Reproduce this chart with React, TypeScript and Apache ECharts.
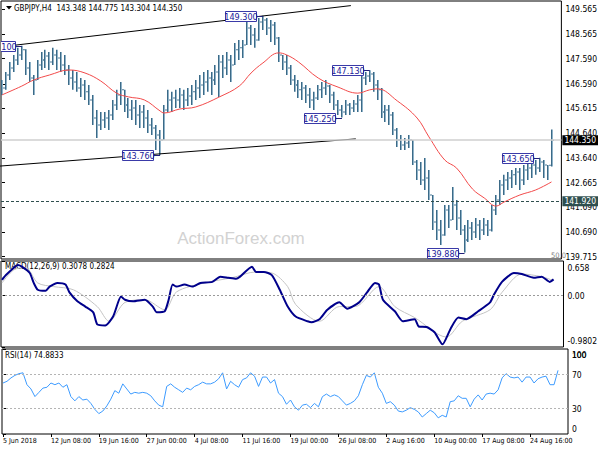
import React, { useEffect, useRef } from "react";
import * as echarts from "echarts";

// ---------- data ----------
const timeLabels = [
  "5 Jun 2018", "12 Jun 08:00", "19 Jun 16:00", "27 Jun 00:00", "4 Jul 08:00", "11 Jul 16:00",
  "19 Jul 00:00", "26 Jul 08:00", "2 Aug 16:00", "10 Aug 00:00", "17 Aug 08:00", "24 Aug 16:00",
];
const timeLabelBars = [0, 12, 24, 36, 48, 60, 72, 84, 96, 108, 120, 132];

const priceTicks = [149.565, 148.565, 147.59, 146.59, 145.615, 144.64, 143.64, 142.665, 141.69, 140.69, 139.715];
const macdTicks = [0.658, 0, -0.9802];
const rsiTicks = [100, 70, 30, 0];
const rsiUpperLabels = [100, 70, 30];
const rsiBottomLabel = "0";

const firstOpen = 146.3;
const highs = [
  146.74, 147.06, 147.46, 147.74, 148.02, 148.10, 147.96, 147.46, 146.94, 147.54,
  147.86, 147.94, 147.86, 148.02, 147.94, 147.86, 147.74, 147.34, 147.14, 147.06,
  146.82, 146.74, 146.54, 146.15, 145.55, 145.47, 145.47, 145.55, 145.95, 146.35,
  146.66, 146.35, 146.03, 145.95, 145.95, 145.75, 145.75, 145.55, 145.23, 144.95,
  144.75, 145.75, 146.35, 146.27, 146.35, 146.42, 146.35, 146.42, 146.54, 146.74,
  146.94, 147.06, 147.14, 147.06, 147.34, 147.74, 147.74, 147.86, 147.74, 148.21,
  148.33, 148.33, 149.05, 148.93, 148.81, 149.21, 149.30, 149.21, 149.13, 149.05,
  148.45, 147.74, 147.74, 147.34, 146.94, 146.74, 146.66, 146.54, 146.42, 146.27,
  146.54, 146.66, 146.74, 146.54, 146.27, 145.95, 145.75, 145.95, 145.83, 145.95,
  146.15, 147.06, 147.06, 147.13, 147.06, 146.74, 146.42, 145.75, 145.75, 145.47,
  144.83, 144.56, 144.44, 144.56, 144.36, 143.56, 143.48, 143.64, 143.16, 142.17,
  141.57, 141.18, 141.77, 141.77, 142.49, 141.97, 141.57, 140.98, 141.18, 141.10,
  141.26, 141.18, 141.26, 141.18, 141.77, 142.17, 142.77, 142.97, 143.08, 143.16,
  143.24, 143.24, 143.36, 143.48, 143.56, 143.56, 143.65, 143.56, 143.36, 144.775,
];
const lows = [
  146.15, 146.35, 146.74, 147.06, 147.34, 147.54, 146.94, 146.66, 146.15, 146.74,
  147.14, 147.22, 147.14, 147.34, 147.14, 147.06, 146.94, 146.54, 146.35, 146.27,
  146.07, 145.95, 145.75, 144.95, 144.44, 144.75, 144.83, 144.75, 145.15, 145.55,
  145.75, 145.47, 145.23, 145.15, 144.95, 144.83, 144.83, 144.63, 144.56, 143.96,
  143.76, 144.36, 145.47, 145.47, 145.63, 145.63, 145.55, 145.71, 145.75, 145.95,
  146.03, 146.15, 146.27, 146.15, 146.54, 146.07, 146.82, 146.94, 146.66, 147.34,
  147.54, 147.62, 148.13, 148.13, 148.02, 148.30, 148.73, 148.53, 148.25, 148.13,
  147.46, 147.14, 146.94, 146.54, 146.27, 146.03, 145.95, 145.83, 145.63, 145.55,
  145.95, 146.03, 146.15, 145.83, 145.55, 145.35, 145.25, 145.35, 145.35, 145.47,
  145.47, 145.47, 146.54, 146.66, 146.27, 145.95, 145.23, 145.07, 144.95, 144.56,
  144.08, 143.96, 143.96, 144.04, 143.36, 142.77, 142.57, 142.37, 141.97, 140.78,
  140.38, 140.18, 140.55, 140.86, 141.18, 140.78, 140.58, 139.88, 140.30, 140.38,
  140.46, 140.38, 140.58, 140.54, 140.72, 141.37, 141.77, 142.17, 142.37, 142.45,
  142.57, 142.37, 142.57, 142.77, 142.85, 142.97, 143.08, 142.85, 142.77, 143.304,
];
const closes = [
  146.42, 146.94, 147.22, 147.54, 147.74, 147.94, 147.22, 146.82, 146.74, 147.34,
  147.54, 147.70, 147.46, 147.74, 147.62, 147.34, 147.14, 146.82, 146.66, 146.42,
  146.54, 146.27, 145.95, 145.23, 144.95, 145.15, 145.23, 145.35, 145.75, 146.15,
  146.35, 145.75, 145.55, 145.63, 145.35, 145.47, 145.23, 144.95, 144.83, 144.56,
  144.36, 145.55, 145.95, 146.03, 145.95, 146.15, 145.95, 146.11, 146.27, 146.42,
  146.54, 146.66, 146.82, 146.74, 147.06, 147.46, 147.22, 147.54, 147.34, 147.94,
  148.02, 148.13, 148.81, 148.53, 148.33, 149.05, 149.13, 148.81, 148.93, 148.41,
  147.74, 147.46, 147.22, 146.74, 146.54, 146.35, 146.42, 146.15, 145.95, 146.03,
  146.35, 146.42, 146.50, 146.15, 145.75, 145.55, 145.47, 145.75, 145.63, 145.79,
  145.95, 146.82, 146.90, 146.98, 146.54, 146.35, 145.47, 145.55, 145.35, 144.75,
  144.36, 144.16, 144.24, 144.36, 143.48, 143.16, 142.77, 142.85, 142.17, 141.10,
  140.78, 140.58, 141.57, 141.18, 141.77, 141.26, 140.78, 140.38, 140.86, 140.70,
  140.98, 140.78, 140.98, 140.78, 141.57, 141.97, 142.57, 142.77, 142.85, 142.97,
  143.08, 142.77, 143.16, 143.24, 143.36, 143.24, 143.48, 143.36, 143.348, 144.35,
];

const maBars = [0, 5, 8, 12, 17, 21, 25, 29, 32, 36, 40, 41, 45, 49, 55, 60, 63, 66, 70, 72, 75, 80, 85, 90, 93, 95, 100, 105, 108, 112, 115, 119, 122, 125, 127, 131, 135, 139];
const maValues = [
  146.15, 146.50, 146.74, 146.94, 147.14, 147.02, 146.70, 146.22, 146.07, 145.95,
  145.51, 145.43, 145.59, 145.67, 146.07, 146.50, 147.02, 147.42, 147.82, 147.74,
  147.46, 146.82, 146.46, 146.22, 146.35, 146.39, 145.91, 145.23, 144.48, 143.56,
  143.24, 142.41, 142.05, 141.73, 141.89, 142.17, 142.37, 142.69,
];

const macdBars = [0, 1, 3, 4, 5, 7, 8, 9, 11, 12, 14, 16, 17, 19, 21, 23, 24, 26, 28, 30, 31, 33, 36, 38, 39, 41, 42, 43, 44, 46, 48, 50, 53, 55, 57, 59, 60, 63, 64, 66, 68, 70, 72, 74, 77, 78, 80, 82, 85, 87, 90, 92, 94, 95, 96, 99, 101, 104, 105, 107, 109, 111, 113, 115, 117, 120, 123, 124, 126, 129, 131, 134, 136, 138, 139];
const macdValues = [
  0.30, 0.39, 0.53, 0.58, 0.55, 0.43, 0.24, 0.11, 0.09, 0.17,
  0.24, 0.21, 0.06, -0.11, -0.21, -0.32, -0.55, -0.57, -0.40, -0.02,
  -0.08, -0.11, -0.08, -0.21, -0.32, -0.30, -0.08, 0.21, 0.17, 0.21,
  0.17, 0.24, 0.26, 0.36, 0.34, 0.32, 0.36, 0.55, 0.45, 0.45,
  0.39, 0.11, -0.21, -0.40, -0.49, -0.51, -0.45, -0.27, -0.13, -0.25,
  -0.13, 0.06, 0.24, 0.21, -0.08, -0.30, -0.49, -0.45, -0.59, -0.60,
  -0.70, -0.93, -0.64, -0.42, -0.45, -0.30, -0.13, 0.02, 0.26, 0.43,
  0.41, 0.34, 0.36, 0.26, 0.3078,
];
const signalBars = [0, 3, 6, 9, 13, 18, 24, 27, 31, 36, 41, 44, 51, 58, 64, 68, 72, 74, 80, 85, 89, 95, 99, 104, 112, 116, 123, 126, 131, 136, 139];
const signalValues = [
  0.24, 0.49, 0.53, 0.24, 0.17, 0.11, -0.21, -0.49, -0.13, -0.08,
  -0.27, 0.07, 0.24, 0.34, 0.45, 0.43, 0.17, -0.17, -0.49, -0.21,
  -0.21, 0.17, -0.21, -0.42, -0.79, -0.49, -0.27, 0.06, 0.41, 0.36,
  0.2824,
];

const rsiValues = [
  60, 62, 66, 69, 71, 72, 58, 53, 44, 49,
  54, 55, 60, 58, 60, 55, 58, 44, 39, 44,
  40, 41, 36, 29, 24, 27, 33, 41, 51, 48,
  59, 53, 47, 49, 48, 49, 48, 45, 39, 34,
  32, 56, 59, 55, 52, 49, 54, 52, 56, 58,
  61, 59, 59, 61, 65, 72, 53, 62, 58, 55,
  64, 66, 72, 68, 56, 67, 67, 60, 64, 48,
  44, 35, 40, 32, 28, 34, 35, 31, 36, 32,
  44, 47, 44, 46, 44, 39, 34, 36, 39, 45,
  58, 69, 67, 72, 55, 48, 36, 38, 34, 27,
  26, 28, 31, 29, 26, 20, 24, 28, 25, 19,
  22, 20, 38, 39, 45, 42, 42, 32, 41, 46,
  40, 47, 48, 47, 52, 66, 71, 67, 66, 67,
  61, 67, 67, 60, 65, 67, 68, 58, 58, 74.88,
];

const annBars = [5, 66, 40, 93, 86, 117, 136];
const annPrices = [148.1, 149.3, 143.76, 147.13, 145.25, 139.88, 143.65];
const annTexts = ["148.100", "149.300", "143.760", "147.130", "145.250", "139.880", "143.650"];

const upperLineBars = [3.5, 88.25];
const upperLinePrices = [148.13, 149.7];
const lowerLineBars = [-0.5, 89.5];
const lowerLinePrices = [143.32, 144.4];

const lastPrice = 144.35;
const levelPrice = 141.92;

// ---------- layout ----------
const FONT = '"Liberation Sans Narrow", "DejaVu Sans Condensed", "Liberation Sans", Arial, sans-serif';
const WIDE_FONT = '"Liberation Sans", Arial, sans-serif';
const X_MIN = -0.25;
const X_MAX = 141.5;

export default function App() {
  const ref = useRef<HTMLDivElement>(null);

  useEffect(() => {
    if (!ref.current) return;
    const chart = echarts.init(ref.current, null, { renderer: "svg" });

    const opens = closes.map((c, i) => (i === 0 ? firstOpen : closes[i - 1]));
    const barData = closes.map((c, i) => [i, opens[i], c, lows[i], highs[i]]);

    const gridBase = { left: 1, width: 567, show: true, borderColor: "#000", borderWidth: 1, backgroundColor: "transparent" };

    const hiddenX = (gi: number) => ({
      type: "value", gridIndex: gi, min: X_MIN, max: X_MAX, show: false,
      splitLine: { show: false },
    });

    const axisLabelBase = { color: "#000", fontSize: 8.5, fontFamily: FONT, margin: 4 };
    const labelRich = {
      t: { padding: [11, 0, 0, 0], fontSize: 8.5, fontFamily: FONT, color: "#000" },
      m: { fontSize: 8.5, fontFamily: FONT, color: "#000" },
    };

    const option: any = {
      animation: false,
      textStyle: { fontFamily: FONT },
      grid: [
        { ...gridBase, top: 1, height: 258 },
        { ...gridBase, top: 261, height: 86 },
        { ...gridBase, top: 349, height: 85 },
        // thin strip at the bottom of the RSI window that carries its "0" scale label
        { left: 1, width: 567, top: 424, height: 10, show: false },
      ],
      xAxis: [
        hiddenX(0),
        hiddenX(1),
        {
          type: "value", gridIndex: 2, min: X_MIN, max: X_MAX,
          axisLine: { show: false },
          splitLine: { show: false },
          axisTick: { show: true, length: 3, customValues: timeLabelBars, lineStyle: { color: "#000" } },
          axisLabel: {
            ...axisLabelBase, fontSize: 7, align: "left", margin: 3,
            customValues: timeLabelBars,
            formatter: (v: number) => {
              const k = timeLabelBars.indexOf(Math.round(v));
              return k >= 0 ? timeLabels[k] : "";
            },
          },
        },
        hiddenX(3),
      ],
      yAxis: [
        {
          type: "value", gridIndex: 0, position: "right", min: 139.625, max: 149.883,
          axisLine: { show: false }, splitLine: { show: false },
          axisTick: { show: true, length: 3, customValues: priceTicks, lineStyle: { color: "#000" } },
          axisLabel: { ...axisLabelBase, customValues: priceTicks, formatter: (v: number) => v.toFixed(3) },
        },
        {
          type: "value", gridIndex: 1, position: "right", min: -0.9802, max: 0.658,
          axisLine: { show: false }, splitLine: { show: false },
          axisTick: { show: true, length: 3, customValues: macdTicks, lineStyle: { color: "#000" } },
          axisLabel: {
            ...axisLabelBase, customValues: macdTicks, showMinLabel: true, showMaxLabel: true,
            formatter: (v: number) => (v > 0.3 ? "{t|0.658}" : v < -0.3 ? "{b|-0.9802}" : "{m|0.00}"),
            rich: {
              t: { padding: [13, 0, 0, 0], fontSize: 8.5, fontFamily: FONT, color: "#000" },
              b: { padding: [0, 0, 13, 0], fontSize: 8.5, fontFamily: FONT, color: "#000" },
              m: { fontSize: 8.5, fontFamily: FONT, color: "#000" },
            },
          },
        },
        {
          type: "value", gridIndex: 2, position: "right", min: 0, max: 100,
          axisLine: { show: false }, splitLine: { show: false },
          axisTick: { show: true, length: 3, customValues: rsiTicks, lineStyle: { color: "#000" } },
          axisLabel: {
            ...axisLabelBase, customValues: rsiUpperLabels, showMinLabel: true, showMaxLabel: true,
            hideOverlap: false,
            formatter: (v: number) => (v > 90 ? "{t|100}" : "{m|" + Math.round(v) + "}"),
            rich: labelRich,
          },
        },
        {
          type: "value", gridIndex: 3, position: "right", min: 0, max: 1,
          axisLine: { show: false }, splitLine: { show: false }, axisTick: { show: false },
          axisLabel: {
            ...axisLabelBase, customValues: [0.5], showMinLabel: true, showMaxLabel: true,
            formatter: () => rsiBottomLabel,
          },
        },
      ],
      series: [
        // price level lines
        {
          type: "line", xAxisIndex: 0, yAxisIndex: 0, data: [], silent: true, z: 6,
          markLine: {
            silent: true, symbol: ["none", "none"], animation: false,
            data: [
              {
                yAxis: lastPrice,
                lineStyle: { color: "#cfcfcf", width: 1.5, type: "solid" },
                label: {
                  show: true, position: "end", distance: 1, formatter: "144.350",
                  backgroundColor: "#000", color: "#fff", padding: [1, 2, 0, 2],
                  fontSize: 8.5, fontFamily: FONT,
                },
              },
              {
                yAxis: levelPrice,
                lineStyle: { color: "#2f4f4f", width: 1, type: [3, 2] },
                label: {
                  show: true, position: "end", distance: 1, formatter: "141.920",
                  backgroundColor: "#2f4f4f", color: "#fff", padding: [1, 2, 0, 2],
                  fontSize: 8.5, fontFamily: FONT,
                },
              },
            ],
          },
        },
        // channel lines
        {
          type: "line", xAxisIndex: 0, yAxisIndex: 0, silent: true, symbol: "none",
          data: upperLineBars.map((b, k) => [b, upperLinePrices[k]]),
          lineStyle: { color: "#000", width: 1 },
        },
        {
          type: "line", xAxisIndex: 0, yAxisIndex: 0, silent: true, symbol: "none",
          data: lowerLineBars.map((b, k) => [b, lowerLinePrices[k]]),
          lineStyle: { color: "#000", width: 1 },
        },
        // OHLC bars
        {
          type: "custom", xAxisIndex: 0, yAxisIndex: 0, silent: true, clip: true,
          data: barData,
          encode: { x: 0, y: [1, 2, 3, 4] },
          renderItem: (params: any, api: any) => {
            const i = api.value(0);
            const x = Math.round(api.coord([i, api.value(4)])[0]);
            const yH = api.coord([i, api.value(4)])[1];
            const yL = api.coord([i, api.value(3)])[1];
            const yO = api.coord([i, api.value(1)])[1];
            const yC = api.coord([i, api.value(2)])[1];
            const h = Math.max(1, yL - yH);
            return {
              type: "group",
              children: [
                { type: "rect", shape: { x: x - 1, y: yH, width: 1, height: h }, style: { fill: "#3b6a87" } },
                { type: "rect", shape: { x: x, y: yH, width: 1, height: h }, style: { fill: "#8fb2c8" } },
                { type: "rect", shape: { x: x - 2, y: yO - 0.5, width: 1, height: 1 }, style: { fill: "#4f7d99" } },
                { type: "rect", shape: { x: x + 1, y: yC - 0.5, width: 1, height: 1 }, style: { fill: "#4f7d99" } },
              ],
            };
          },
        },
        // moving average
        {
          type: "line", xAxisIndex: 0, yAxisIndex: 0, silent: true, symbol: "none", smooth: 0.4,
          data: maBars.map((b, k) => [b, maValues[k]]),
          lineStyle: { color: "#f24a4a", width: 1 },
        },
        // annotations
        {
          type: "custom", xAxisIndex: 0, yAxisIndex: 0, silent: true, clip: true, z: 5,
          data: annBars.map((b, k) => [b, annPrices[k]]),
          encode: { x: 0, y: 1 },
          renderItem: (params: any, api: any) => {
            const pt = api.coord([api.value(0), api.value(1)]);
            const text = annTexts[params.dataIndex];
            const w = 32, h = 10, gap = 6;
            const r = Math.round(pt[0]) - gap;
            const cy = Math.round(pt[1]) + 0.5;
            return {
              type: "group",
              children: [
                { type: "line", shape: { x1: r, y1: cy, x2: pt[0], y2: cy }, style: { stroke: "#20207a", lineWidth: 1 } },
                { type: "rect", shape: { x: r - w + 0.5, y: cy - h / 2, width: w - 1, height: h }, style: { fill: "#fff", stroke: "#3a3aa8", lineWidth: 1 } },
                {
                  type: "text",
                  style: { text, x: r - w / 2, y: cy + 0.5, align: "center", verticalAlign: "middle", fill: "#1a1a9a", fontSize: 9, fontFamily: FONT },
                },
              ],
            };
          },
        },
        // MACD
        {
          type: "line", xAxisIndex: 1, yAxisIndex: 1, silent: true, symbol: "none", smooth: 0.3,
          data: signalBars.map((b, k) => [b, signalValues[k]]),
          lineStyle: { color: "#c4c4c4", width: 1 },
          markLine: {
            silent: true, symbol: ["none", "none"], label: { show: false },
            data: [{ yAxis: 0 }],
            lineStyle: { color: "#9a9a9a", width: 1, type: [2, 2] },
          },
        },
        {
          type: "line", xAxisIndex: 1, yAxisIndex: 1, silent: true, symbol: "none", smooth: 0.2,
          data: macdBars.map((b, k) => [b, macdValues[k]]),
          lineStyle: { color: "#00008b", width: 2 },
        },
        // RSI
        {
          type: "line", xAxisIndex: 2, yAxisIndex: 2, silent: true, symbol: "none",
          data: rsiValues.map((v, i) => [i, v]),
          lineStyle: { color: "#3d9bff", width: 1 },
          markLine: {
            silent: true, symbol: ["none", "none"], label: { show: false },
            data: [{ yAxis: 70 }, { yAxis: 30 }],
            lineStyle: { color: "#b4b4b4", width: 1, type: [2, 2] },
          },
        },
        // empty series that keeps the bottom-label strip's axes alive
        { type: "line", xAxisIndex: 3, yAxisIndex: 3, data: [], silent: true },
      ],
      graphic: [
        { type: "polygon", shape: { points: [[6, 6], [12, 6], [9, 9.5]] }, style: { fill: "#000" } },
        {
          type: "text", x: 14, y: 8,
          style: { text: "GBPJPY,H4  143.348 144.775 143.304 144.350", fill: "#000", fontSize: 8, fontFamily: FONT, verticalAlign: "middle" },
        },
        {
          type: "text", x: 5, y: 266,
          style: { text: "MACD(12,26,9) 0.3078 0.2824", fill: "#000", fontSize: 8, fontFamily: FONT, verticalAlign: "middle" },
        },
        {
          type: "text", x: 5, y: 355,
          style: { text: "RSI(14) 74.8833", fill: "#000", fontSize: 8, fontFamily: FONT, verticalAlign: "middle" },
        },
        {
          type: "text", x: 241, y: 238,
          style: { text: "ActionForex.com", fill: "#d2d2d2", fontSize: 17, fontFamily: WIDE_FONT, align: "center", verticalAlign: "middle" },
        },
        {
          type: "text", x: 566, y: 255,
          style: { text: "50.0", fill: "#808080", fontSize: 7.5, fontFamily: FONT, align: "right", verticalAlign: "middle" },
        },
        {
          type: "text", left: 572, top: 350, z: 100,
          style: { text: "100", fill: "#000", fontSize: 8.5, fontFamily: WIDE_FONT },
        },
      ],
    };

    chart.setOption(option);
    return () => chart.dispose();
  }, []);

  return (
    <div
      ref={ref}
      style={{ position: "fixed", left: 0, top: 0, width: 600, height: 450, background: "#fff" }}
    />
  );
}
